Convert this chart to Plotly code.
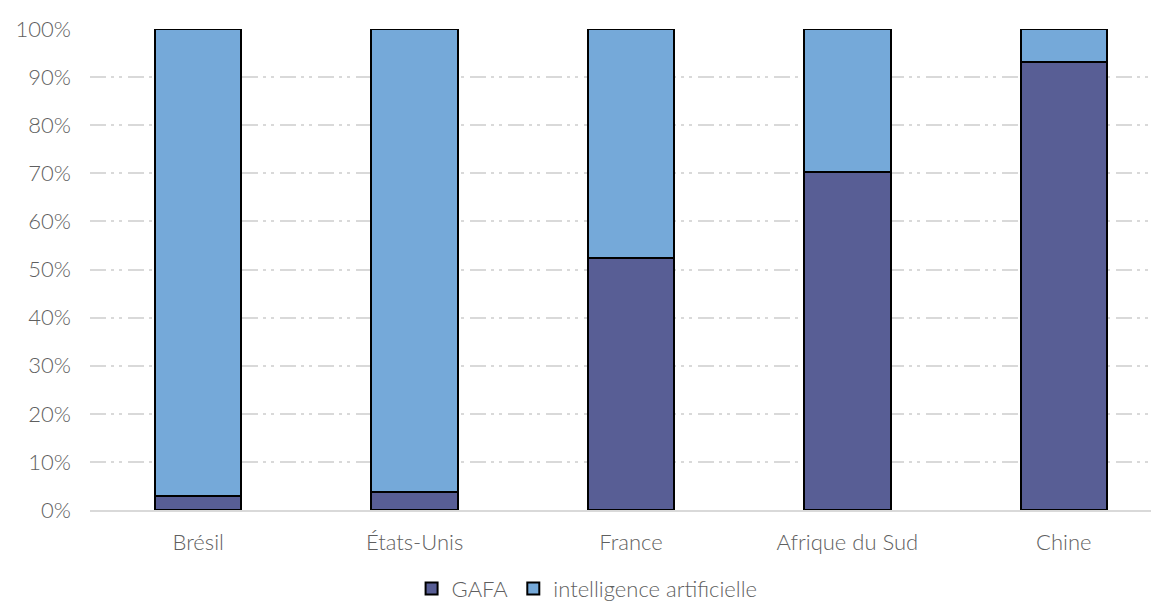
import plotly.graph_objects as go

categories = ["Brésil", "États-Unis", "France", "Afrique du Sud", "Chine"]
gafa = [2.9, 3.7, 52.4, 70.3, 93.1]
ia = [round(100 - v, 1) for v in gafa]
tick_vals = list(range(0, 101, 10))
tick_text = [f"{v}%" for v in tick_vals]

font_family = "Lato, 'Open Sans', sans-serif"
txt_color = "#5f5f5f"
fig = go.Figure()
fig.add_trace(go.Bar(x=categories, y=gafa, name="GAFA", width=0.4,
                     marker=dict(color="#585e95", line=dict(color="black", width=2))))
fig.add_trace(go.Bar(x=categories, y=ia, name="intelligence artificielle", width=0.4,
                     marker=dict(color="#75a9d9", line=dict(color="black", width=2))))

fig.update_layout(
    barmode="stack",
    width=1151, height=594,
    margin=dict(l=82, r=0, t=21, b=92, autoexpand=False),
    plot_bgcolor="white", paper_bgcolor="white",
    font=dict(family=font_family, color=txt_color, size=22, weight=300),
    showlegend=True,
    legend=dict(orientation="h", x=0.465, xanchor="center",
                y=-0.12, yanchor="top",
                font=dict(size=22, color=txt_color, weight=300), traceorder="normal",
                itemwidth=30),
    xaxis=dict(range=[-0.5, 4.44], showgrid=False, showline=True, automargin=False,
               linecolor="#d9d9d9", linewidth=2, ticks="", ticklabelstandoff=12,
               tickfont=dict(size=22, weight=300)),
    yaxis=dict(range=[0, 100], tickvals=tick_vals, ticktext=tick_text, automargin=False,
               showgrid=True, gridcolor="#d9d9d9", gridwidth=2,
               griddash="16px,5px,3px,5px,3px,6px", zeroline=False,
               ticks="", ticklabelstandoff=18, tickfont=dict(size=22, weight=300)),
)
fig.write_html("out.html")
